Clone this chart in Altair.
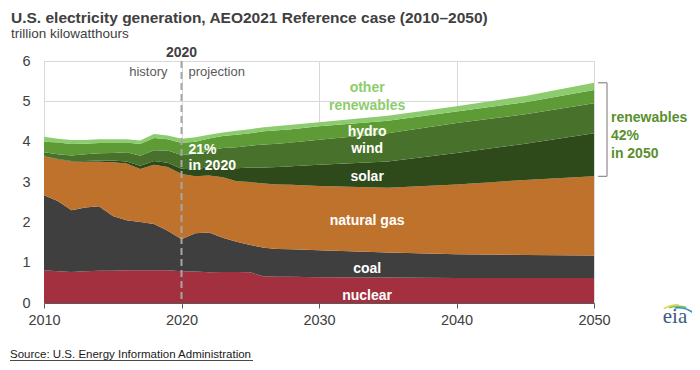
import altair as alt
import pandas as pd

# ---- data (trillion kWh) ----
years = [2010, 2011, 2012, 2013, 2014, 2015, 2016, 2017, 2018, 2019, 2020,
         2021, 2022, 2023, 2024, 2025, 2026, 2027, 2028,
         2030, 2035, 2040, 2045, 2050]
nuclear = [0.81, 0.79, 0.77, 0.79, 0.80, 0.80, 0.81, 0.81, 0.81, 0.81, 0.79,
           0.78, 0.76, 0.77, 0.77, 0.76, 0.66, 0.65, 0.65,
           0.64, 0.63, 0.62, 0.62, 0.62]
coal = [1.86, 1.74, 1.53, 1.58, 1.60, 1.36, 1.24, 1.20, 1.15, 0.98, 0.79,
        0.95, 0.99, 0.85, 0.75, 0.68, 0.71, 0.69, 0.68,
        0.67, 0.62, 0.59, 0.57, 0.56]
natural_gas = [0.97, 1.03, 1.21, 1.13, 1.10, 1.33, 1.41, 1.31, 1.47, 1.58, 1.62,
               1.41, 1.41, 1.50, 1.50, 1.56, 1.59, 1.60, 1.60,
               1.59, 1.61, 1.73, 1.86, 1.96]
solar = [0.00, 0.01, 0.01, 0.02, 0.03, 0.04, 0.05, 0.08, 0.09, 0.11, 0.13,
         0.17, 0.21, 0.26, 0.32, 0.36, 0.40, 0.43, 0.46,
         0.53, 0.65, 0.78, 0.90, 1.07]
wind = [0.10, 0.12, 0.14, 0.17, 0.18, 0.19, 0.23, 0.25, 0.27, 0.30, 0.34,
        0.39, 0.41, 0.46, 0.52, 0.54, 0.57, 0.58, 0.59,
        0.62, 0.70, 0.74, 0.73, 0.74]
hydro = [0.26, 0.29, 0.28, 0.26, 0.26, 0.25, 0.24, 0.29, 0.30, 0.28, 0.30,
         0.30, 0.30, 0.30, 0.31, 0.31, 0.33, 0.33, 0.33,
         0.33, 0.31, 0.29, 0.30, 0.33]
other_renewables = [0.12, 0.09, 0.10, 0.09, 0.09, 0.09, 0.08, 0.09, 0.10, 0.09, 0.10,
                    0.11, 0.09, 0.09, 0.10, 0.10, 0.10, 0.11, 0.11,
                    0.10, 0.12, 0.13, 0.15, 0.18]

sources = ["nuclear", "coal", "natural gas", "solar", "wind", "hydro", "other renewables"]
colors = ["#a3303e", "#3f3f3f", "#bf722c", "#2e4a1b", "#48712b", "#5e9a36", "#8dcc6e"]
series = [nuclear, coal, natural_gas, solar, wind, hydro, other_renewables]

x_ticks = [2010, 2020, 2030, 2040, 2050]
y_ticks = [0, 1, 2, 3, 4, 5, 6]
projection_start = [2020]

rows = []
for k, (name, vals) in enumerate(zip(sources, series)):
    for yr, v in zip(years, vals):
        rows.append({"year": yr, "source": name, "value": v, "ord": k})
df = pd.DataFrame(rows)

FONT = "Liberation Sans"
x_scale = alt.Scale(domain=[2010, 2050], nice=False, zero=False)
y_scale = alt.Scale(domain=[0, 6], nice=False)

areas = alt.Chart(df).mark_area(interpolate="linear").encode(
    x=alt.X("year:Q", scale=x_scale,
            axis=alt.Axis(values=x_ticks, format="d", title=None, labelFontSize=14.5,
                          labelColor="#404040", labelFont=FONT, tickSize=5, labelPadding=5,
                          domainColor="#595959", tickColor="#595959", gridColor="#d9d9d9",
                          labelFlush=False)),
    y=alt.Y("value:Q", stack="zero", scale=y_scale,
            axis=alt.Axis(values=y_ticks, title=None, labelFontSize=14.5, labelFont=FONT,
                          ticks=False, domain=False, labelPadding=14,
                          gridColor="#d9d9d9", labelColor="#404040")),
    color=alt.Color("source:N", scale=alt.Scale(domain=sources, range=colors), legend=None),
    order=alt.Order("ord:Q", sort="ascending"),
)

rule = alt.Chart(pd.DataFrame({"year": projection_start})).mark_rule(
    strokeDash=[7, 4], color="#a6a6a6", strokeWidth=2
).encode(x=alt.X("year:Q", scale=x_scale))

one = pd.DataFrame({"a": [0]})


def txt(text, x, y, **kw):
    return alt.Chart(one).mark_text(text=text, font=FONT, **kw).encode(x=x, y=y)


layers = [areas, rule]

# in-area labels
lx = alt.datum(2033.5)
white = dict(color="white", fontWeight="bold", fontSize=14, baseline="middle", align="center")
layers += [
    txt("nuclear", lx, alt.datum(0.17), **white),
    txt("coal", lx, alt.datum(0.84), **white),
    txt("natural gas", lx, alt.datum(2.03), **white),
    txt("solar", lx, alt.datum(3.12), **white),
    txt("wind", lx, alt.datum(3.82), **white),
    txt("hydro", lx, alt.datum(4.24), **white),
    txt(["other", "renewables"], lx, alt.datum(5.33), color="#8dcc6e", fontWeight="bold",
        fontSize=14, baseline="middle", align="center", lineHeight=18),
    txt(["21%", "in 2020"], alt.datum(2020), alt.value(89), color="white", fontWeight="bold",
        fontSize=14, baseline="middle", align="left", dx=7, lineHeight=16),
]

# header texts
layers += [
    txt("U.S. electricity generation, AEO2021 Reference case (2010\u20132050)",
        alt.value(-33), alt.value(-38.5), fontSize=15.5, fontWeight="bold", color="#404040",
        align="left", baseline="alphabetic"),
    txt("trillion kilowatthours", alt.value(-33), alt.value(-23), fontSize=13.5,
        color="#404040", align="left", baseline="alphabetic"),
    txt("2020", alt.datum(2020), alt.value(-4), fontSize=14, fontWeight="bold",
        color="#404040", align="center", baseline="alphabetic"),
    txt("history", alt.datum(2020), alt.value(15), fontSize=13, color="#595959",
        align="right", baseline="alphabetic", dx=-14),
    txt("projection", alt.datum(2020), alt.value(15), fontSize=13, color="#595959",
        align="left", baseline="alphabetic", dx=7),
]

# renewables bracket in 2050
gas_top_2050 = nuclear[-1] + coal[-1] + natural_gas[-1]
total_2050 = sum(s[-1] for s in series)
bracket_df = pd.DataFrame({"lo": [gas_top_2050], "hi": [total_2050]})
bcol = "#8c8c8c"
layers += [
    alt.Chart(bracket_df).mark_rule(color=bcol, strokeWidth=1.2).encode(
        x=alt.value(563), y=alt.Y("lo:Q", scale=y_scale), y2="hi:Q"),
    alt.Chart(bracket_df).mark_rule(color=bcol, strokeWidth=1.2).encode(
        x=alt.value(554), x2=alt.value(563), y=alt.Y("lo:Q", scale=y_scale)),
    alt.Chart(bracket_df).mark_rule(color=bcol, strokeWidth=1.2).encode(
        x=alt.value(554), x2=alt.value(563), y=alt.Y("hi:Q", scale=y_scale)),
    txt(["renewables", "42%", "in 2050"], alt.value(567), alt.value(57), color="#5b8f2f",
        fontWeight="bold", fontSize=14, align="left", baseline="middle", lineHeight=18),
]

# source line and eia mark
layers += [
    txt("Source: U.S. Energy Information Administration", alt.value(-34), alt.value(297),
        fontSize=11.5, color="#1a1a1a", align="left", baseline="alphabetic"),
    alt.Chart(one).mark_rule(color="#1a1a1a", strokeWidth=0.8).encode(
        x=alt.value(-34), x2=alt.value(209), y=alt.value(299.5)),
    alt.Chart(one).mark_text(text="eia", font="Liberation Serif", fontSize=21,
                             color="#3b5c7e", align="center", baseline="alphabetic").encode(
        x=alt.value(631), y=alt.value(262)),
    alt.Chart(one).mark_arc(color="#e8d44a").encode(
        x=alt.value(634), y=alt.value(272), theta=alt.value(5.75), theta2=alt.value(6.3),
        radius=alt.value(29), radius2=alt.value(27.5)),
    alt.Chart(one).mark_arc(color="#7cc04a").encode(
        x=alt.value(634), y=alt.value(272), theta=alt.value(5.95), theta2=alt.value(6.6),
        radius=alt.value(27.5), radius2=alt.value(26)),
    alt.Chart(one).mark_arc(color="#2f8fd0").encode(
        x=alt.value(634), y=alt.value(272), theta=alt.value(6.15), theta2=alt.value(6.95),
        radius=alt.value(26), radius2=alt.value(24.5)),
]

chart = alt.layer(*layers).properties(
    width=550, height=242,
    padding={"left": 36, "top": 53, "right": 98, "bottom": 59},
    autosize=alt.AutoSizeParams(type="none"),
).configure_view(stroke=None).configure(background="white")

chart.save("out.html", embed_options={"renderer": "svg", "actions": False})
